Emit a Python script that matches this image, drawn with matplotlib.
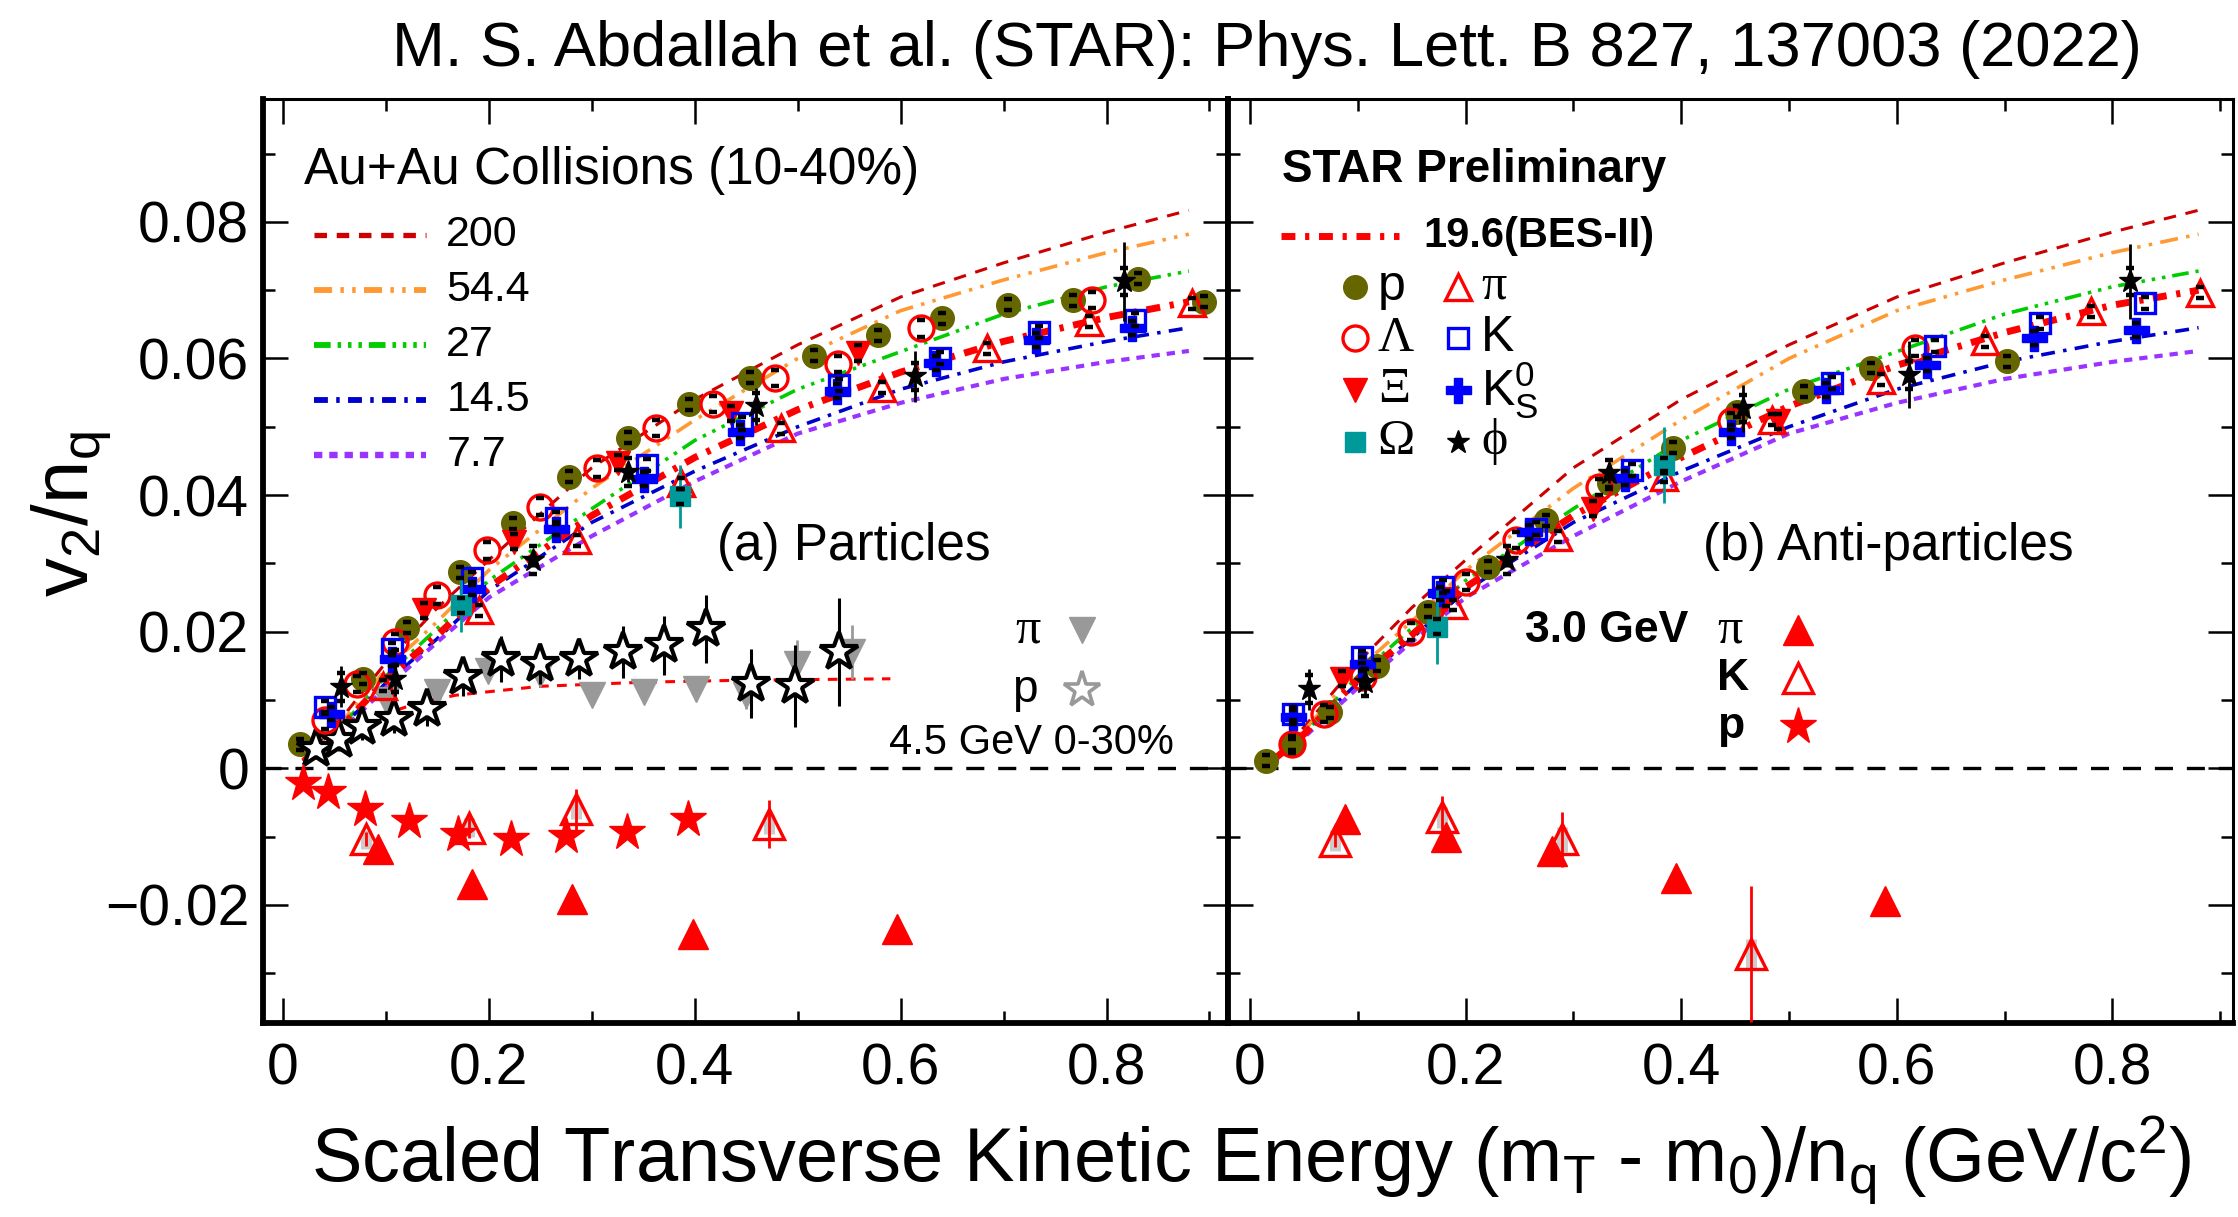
import matplotlib
matplotlib.use('Agg')
import matplotlib.pyplot as plt
from matplotlib.ticker import MultipleLocator

plt.rcParams['font.family'] = ['Liberation Sans', 'DejaVu Sans']
plt.rcParams['mathtext.default'] = 'regular'
plt.rcParams['lines.scale_dashes'] = False

# ---- NCQ fit curves (Au+Au 10-40%) ----
curve_x = [0.02, 0.05, 0.1, 0.15, 0.2, 0.3, 0.4, 0.5, 0.6, 0.7, 0.8, 0.88]
fit_200 = [0.001, 0.006, 0.0155, 0.0235, 0.0305, 0.044, 0.054, 0.062, 0.069, 0.074, 0.0785, 0.0817]
fit_54 = [0.001, 0.0055, 0.0145, 0.0215, 0.029, 0.041, 0.051, 0.060, 0.067, 0.0715, 0.0755, 0.0782]
fit_27 = [0.001, 0.005, 0.0135, 0.0205, 0.0275, 0.038, 0.048, 0.0555, 0.061, 0.0665, 0.0705, 0.0728]
fit_14 = [0.001, 0.005, 0.0125, 0.019, 0.026, 0.036, 0.0435, 0.050, 0.0555, 0.0595, 0.0625, 0.0645]
fit_7 = [0.0005, 0.0045, 0.0118, 0.0185, 0.025, 0.034, 0.042, 0.049, 0.0535, 0.057, 0.0595, 0.0611]
fit_19_par = [0.001, 0.005, 0.013, 0.0195, 0.0265, 0.037, 0.0455, 0.0525, 0.058, 0.0625, 0.066, 0.0683]
fit_19_anti = [0.001, 0.005, 0.013, 0.0195, 0.0265, 0.037, 0.0455, 0.053, 0.059, 0.0638, 0.0678, 0.070]
fit45_x = [0.094, 0.13, 0.168, 0.25, 0.35, 0.45, 0.59]
fit45_y = [0.0077, 0.0095, 0.0107, 0.012, 0.0126, 0.0129, 0.0131]

# ---- 19.6 GeV particles (left) ----
p_x = [0.016, 0.078, 0.120, 0.172, 0.223, 0.278, 0.335, 0.394, 0.454, 0.516, 0.578, 0.640, 0.704, 0.767, 0.831, 0.895]
p_y = [0.0035, 0.0131, 0.0206, 0.0287, 0.0359, 0.0427, 0.0484, 0.0533, 0.0572, 0.0604, 0.0634, 0.0659, 0.0679, 0.0685, 0.0717, 0.0683]
lam_x = [0.041, 0.072, 0.109, 0.150, 0.198, 0.250, 0.305, 0.362, 0.418, 0.478, 0.539, 0.620, 0.786]
lam_y = [0.0070, 0.0123, 0.0185, 0.0253, 0.0319, 0.0383, 0.0439, 0.0498, 0.0533, 0.0571, 0.0592, 0.0644, 0.0686]
xi_x = [0.137, 0.224, 0.325, 0.435, 0.559]
xi_y = [0.0231, 0.0332, 0.0447, 0.0520, 0.0608]
pi_x = [0.097, 0.190, 0.286, 0.387, 0.484, 0.582, 0.684, 0.783, 0.883]
pi_y = [0.0121, 0.0231, 0.0334, 0.0417, 0.0498, 0.0557, 0.0615, 0.0654, 0.0681]
k_x = [0.041, 0.106, 0.184, 0.265, 0.354, 0.446, 0.540, 0.638, 0.734, 0.828]
k_y = [0.0089, 0.0175, 0.0278, 0.0366, 0.0444, 0.0505, 0.0561, 0.0601, 0.0639, 0.0657]
k0_x = [0.047, 0.106, 0.184, 0.265, 0.351, 0.444, 0.538, 0.634, 0.731, 0.825]
k0_y = [0.0080, 0.0160, 0.0263, 0.0351, 0.0424, 0.0493, 0.0552, 0.0593, 0.0627, 0.0645]
om_x = [0.173, 0.386]
om_y = [0.0239, 0.0398]
om_err = [0.004, 0.0046]
phi_x = [0.056, 0.109, 0.243, 0.335, 0.459, 0.614, 0.817]
phi_y = [0.0119, 0.0131, 0.0305, 0.0434, 0.0530, 0.0574, 0.0713]
phi_err = [0.003, 0.0025, 0.001, 0.0015, 0.0027, 0.0037, 0.0058]

# ---- 19.6 GeV anti-particles (right) ----
ap_x = [0.015, 0.039, 0.074, 0.118, 0.165, 0.221, 0.275, 0.333, 0.392, 0.452, 0.514, 0.576, 0.702]
ap_y = [0.0011, 0.0035, 0.0082, 0.0150, 0.0229, 0.0295, 0.0363, 0.0417, 0.0469, 0.0522, 0.0552, 0.0586, 0.0596]
alam_x = [0.039, 0.069, 0.105, 0.149, 0.200, 0.247, 0.324, 0.446, 0.617]
alam_y = [0.0035, 0.0080, 0.0134, 0.0200, 0.0273, 0.0334, 0.0412, 0.0508, 0.0615]
axi_x = [0.085, 0.182, 0.318, 0.490]
axi_y = [0.0131, 0.0248, 0.0380, 0.0508]
api_x = [0.188, 0.286, 0.384, 0.484, 0.585, 0.682, 0.780, 0.881]
api_y = [0.0239, 0.0339, 0.0427, 0.0510, 0.0569, 0.0625, 0.0669, 0.0696]
ak_x = [0.040, 0.104, 0.179, 0.265, 0.354, 0.540, 0.635, 0.733, 0.830]
ak_y = [0.0080, 0.0163, 0.0266, 0.0351, 0.0437, 0.0564, 0.0618, 0.0652, 0.0681]
ak0_x = [0.040, 0.104, 0.176, 0.259, 0.348, 0.446, 0.534, 0.628, 0.727, 0.822]
ak0_y = [0.0075, 0.0153, 0.0256, 0.0346, 0.0425, 0.0493, 0.0554, 0.0591, 0.0630, 0.0642]
aom_x = [0.173, 0.384]
aom_y = [0.0207, 0.0444]
aom_err = [0.0054, 0.0055]
aphi_x = [0.055, 0.107, 0.238, 0.333, 0.457, 0.611, 0.816]
aphi_y = [0.0116, 0.0126, 0.0305, 0.0432, 0.0527, 0.0576, 0.0713]
aphi_err = [0.003, 0.002, 0.001, 0.0015, 0.0034, 0.0049, 0.0055]

# systematic half-heights (black caps) per species: p, Lambda, Xi, pi, K, K0S, Omega, phi
species_sys = [0.0008, 0.0012, 0.0011, 0.0008, 0.0009, 0.0010, 0.0011, 0.0020]

# ---- 4.5 GeV 0-30% ----
pi45_x = [0.100, 0.150, 0.199, 0.250, 0.300, 0.351, 0.401, 0.450, 0.499, 0.553]
pi45_y = [0.0100, 0.0112, 0.0143, 0.0138, 0.0107, 0.0112, 0.0116, 0.0107, 0.0153, 0.0170]
pi45_err = [0.0012, 0.0012, 0.0015, 0.0015, 0.0015, 0.0015, 0.0018, 0.002, 0.0035, 0.004]
p45_x = [0.032, 0.054, 0.077, 0.108, 0.140, 0.175, 0.212, 0.250, 0.288, 0.330, 0.370, 0.411, 0.455, 0.497, 0.540]
p45_y = [0.0028, 0.0041, 0.0060, 0.0072, 0.0087, 0.0134, 0.0160, 0.0153, 0.0160, 0.0170, 0.0180, 0.0204, 0.0124, 0.0121, 0.0170]
p45_err = [0.0015, 0.0015, 0.0018, 0.002, 0.0025, 0.0028, 0.0033, 0.003, 0.003, 0.0038, 0.0043, 0.005, 0.005, 0.006, 0.0079]

# ---- 3.0 GeV (left: particles, right: anti-particles) ----
p30_x = [0.019, 0.044, 0.080, 0.122, 0.170, 0.221, 0.275, 0.334, 0.393]
p30_y = [-0.0021, -0.0035, -0.0060, -0.0077, -0.0096, -0.0104, -0.0099, -0.0094, -0.0074]
pi30_x = [0.092, 0.184, 0.281, 0.398, 0.596]
pi30_y = [-0.0118, -0.0170, -0.0192, -0.0243, -0.0236]
k30_x = [0.081, 0.181, 0.285, 0.472]
k30_y = [-0.0104, -0.0087, -0.0060, -0.0082]
k30_err = [0.001, 0.0015, 0.003, 0.0035]
k30_sys = [0.0014, 0.0014, 0.0014, 0.0014]
api30_x = [0.088, 0.182, 0.280, 0.395, 0.589]
api30_y = [-0.0074, -0.0101, -0.0121, -0.0160, -0.0194]
ak30_x = [0.079, 0.178, 0.289, 0.465]
ak30_y = [-0.0106, -0.0072, -0.0104, -0.0272]
ak30_err = [0.001, 0.0032, 0.004, 0.0100]
ak30_sys = [0.0015, 0.0015, 0.0018, 0.0022]

xtick_vals = [0, 0.2, 0.4, 0.6, 0.8]
xtick_text = ['0', '0.2', '0.4', '0.6', '0.8']
ytick_vals = [-0.02, 0, 0.02, 0.04, 0.06, 0.08]
ytick_text = ['\u22120.02', '0', '0.02', '0.04', '0.06', '0.08']

OLIVE = '#666600'
TEAL = '#009999'
RED = '#ff0000'
BLUE = '#0000ff'

fits = [
    ('200', fit_200, '#cc0000', 2.2, (0, (9, 7))),
    ('54.4', fit_54, '#ff9933', 2.6, (0, (13, 6, 2.5, 6, 2.5, 6))),
    ('27', fit_27, '#00cc00', 2.6, (0, (12, 5, 2.5, 5, 2.5, 5, 2.5, 5))),
    ('14.5', fit_14, '#0000cc', 2.6, (0, (10, 6, 2.5, 6))),
    ('7.7', fit_7, '#9933ff', 3.0, (0, (6, 5))),
]
DASH19 = (0, (10, 7, 3, 7))
SERIF = ['Liberation Serif', 'DejaVu Serif']


def style(ax, xlim, show_y):
    ax.set_xlim(*xlim)
    ax.set_ylim(-0.0373, 0.098)
    ax.set_xticks(xtick_vals)
    ax.set_xticklabels(xtick_text)
    ax.xaxis.set_minor_locator(MultipleLocator(0.1))
    ax.set_yticks(ytick_vals)
    if show_y:
        ax.set_yticklabels(ytick_text)
    else:
        ax.set_yticklabels([])
    ax.yaxis.set_minor_locator(MultipleLocator(0.01))
    ax.tick_params(which='both', direction='in', top=True, right=True,
                   width=1.8, labelsize=41)
    ax.tick_params(which='major', length=18)
    ax.tick_params(which='minor', length=8.5)
    ax.tick_params(axis='x', pad=14)
    ax.tick_params(axis='y', pad=10)
    ax.axhline(0, color='k', lw=2.4, dashes=(13, 10), zorder=1)


def draw_fits(ax, fit19):
    for name, vals, col, lw, ls in fits:
        ax.plot(curve_x, vals, color=col, lw=lw, linestyle=ls, zorder=2)
    ax.plot(curve_x, fit19, color=RED, lw=5, linestyle=DASH19, zorder=2)


def sys_caps(ax, xs, ys, s):
    ax.plot(xs, [y + s for y in ys], '_', color='k', ms=6, mew=3.2, zorder=8)
    ax.plot(xs, [y - s for y in ys], '_', color='k', ms=6, mew=3.2, zorder=8)


def draw_species(ax, d):
    ax.plot(d['p'][0], d['p'][1], 'o', ms=17, color=OLIVE, mec=OLIVE, zorder=4)
    ax.plot(d['lam'][0], d['lam'][1], 'o', ms=18, mfc='none', mec=RED, mew=2.4, zorder=5)
    ax.plot(d['xi'][0], d['xi'][1], 'v', ms=17, color=RED, zorder=5)
    ax.plot(d['pi'][0], d['pi'][1], '^', ms=19, mfc='none', mec=RED, mew=2.4, zorder=5)
    ax.plot(d['k'][0], d['k'][1], 's', ms=15, mfc='none', mec=BLUE, mew=2.4, zorder=5)
    ax.plot(d['k0'][0], d['k0'][1], 'P', ms=18, color=BLUE, mec=BLUE, zorder=5)
    ax.errorbar(d['om'][0], d['om'][1], yerr=d['om'][2], fmt='s', ms=15,
                color=TEAL, ecolor=TEAL, elinewidth=2, capsize=0, zorder=5)
    ax.errorbar(d['phi'][0], d['phi'][1], yerr=d['phi'][2], fmt='*', ms=17,
                color='k', ecolor='k', elinewidth=2, capsize=0, zorder=6)
    for key, s in zip(['p', 'lam', 'xi', 'pi', 'k', 'k0', 'om', 'phi'], species_sys):
        sys_caps(ax, d[key][0], d[key][1], s)


fig = plt.figure(figsize=(22.38, 12.17), dpi=100)
ax1 = fig.add_axes([0.1175, 0.1594, 0.4312, 0.7593])
ax2 = fig.add_axes([0.5487, 0.1594, 0.4491, 0.7593])

style(ax1, (-0.0195, 0.918), True)
style(ax2, (-0.0205, 0.912), False)

for ax in (ax1, ax2):
    ax.spines['left'].set_linewidth(4.2)
    ax.spines['bottom'].set_linewidth(4.2)
    ax.spines['top'].set_linewidth(2.2)
ax1.spines['right'].set_linewidth(4.2)
ax2.spines['right'].set_linewidth(2.2)

# ---- left panel ----
draw_fits(ax1, fit_19_par)
ax1.plot(fit45_x, fit45_y, color=RED, lw=2.2, linestyle=(0, (7, 6)), zorder=2)
ax1.errorbar(pi45_x, pi45_y, yerr=pi45_err, fmt='v', ms=19, color='#999999',
             ecolor='#999999', elinewidth=2, capsize=0, zorder=3)
ax1.errorbar(p45_x, p45_y, yerr=p45_err, fmt='*', ms=29, mfc='white', mec='k',
             mew=3.0, ecolor='k', elinewidth=2.2, capsize=0, zorder=4)
draw_species(ax1, {
    'p': (p_x, p_y), 'lam': (lam_x, lam_y), 'xi': (xi_x, xi_y),
    'pi': (pi_x, pi_y), 'k': (k_x, k_y), 'k0': (k0_x, k0_y),
    'om': (om_x, om_y, om_err), 'phi': (phi_x, phi_y, phi_err)})
ax1.plot(p30_x, p30_y, '*', ms=28, color=RED, zorder=5)
ax1.plot(pi30_x, pi30_y, '^', ms=21, color=RED, zorder=5)
ax1.errorbar(k30_x, k30_y, yerr=k30_sys, fmt='none', ecolor='#cccccc',
             elinewidth=8, capsize=0, zorder=4)
ax1.errorbar(k30_x, k30_y, yerr=k30_err, fmt='^', ms=21, mfc='none', mec=RED,
             mew=2.4, ecolor=RED, elinewidth=2, capsize=0, zorder=5)

# ---- right panel ----
draw_fits(ax2, fit_19_anti)
draw_species(ax2, {
    'p': (ap_x, ap_y), 'lam': (alam_x, alam_y), 'xi': (axi_x, axi_y),
    'pi': (api_x, api_y), 'k': (ak_x, ak_y), 'k0': (ak0_x, ak0_y),
    'om': (aom_x, aom_y, aom_err), 'phi': (aphi_x, aphi_y, aphi_err)})
ax2.plot(api30_x, api30_y, '^', ms=21, color=RED, zorder=5)
ax2.errorbar(ak30_x, ak30_y, yerr=ak30_sys, fmt='none', ecolor='#cccccc',
             elinewidth=8, capsize=0, zorder=4)
ax2.errorbar(ak30_x, ak30_y, yerr=ak30_err, fmt='^', ms=21, mfc='none', mec=RED,
             mew=2.4, ecolor=RED, elinewidth=2, capsize=0, zorder=5)

# ---- left legend (energies) ----
t1 = ax1.transAxes
ax1.text(0.0425, 0.923, 'Au+Au Collisions (10-40%)', transform=t1,
         fontsize=37, va='center', ha='left')
rows = [0.853, 0.793, 0.734, 0.674, 0.615]
for (name, vals, col, lw, ls), yy in zip(fits, rows):
    ax1.plot([0.0524, 0.169], [yy, yy], transform=t1, color=col, lw=lw + 1.6,
             linestyle=ls, clip_on=False)
    ax1.text(0.190, yy, name, transform=t1, fontsize=31, va='center', ha='left')
ax1.text(0.470, 0.516, '(a) Particles', transform=t1, fontsize=37,
         va='center', ha='left')
ax1.text(0.793, 0.425, '\u03c0', transform=t1, fontsize=36, va='center',
         ha='center', family=SERIF)
ax1.plot([0.849], [0.425], 'v', ms=19, color='#999999', transform=t1)
ax1.text(0.789, 0.360, 'p', transform=t1, fontsize=33, va='center', ha='center')
ax1.plot([0.849], [0.360], '*', ms=27, mfc='white', mec='#999999', mew=2.6,
         transform=t1)
ax1.text(0.796, 0.303, '4.5 GeV 0-30%', transform=t1, fontsize=30,
         va='center', ha='center')

# ---- right legend (species) ----
t2 = ax2.transAxes
ax2.text(0.0535, 0.923, 'STAR Preliminary', transform=t2, fontsize=33,
         fontweight='bold', va='center', ha='left')
ax2.plot([0.053, 0.170], [0.852, 0.852], transform=t2, color=RED, lw=5,
         linestyle=DASH19, clip_on=False)
ax2.text(0.194, 0.852, '19.6(BES-II)', transform=t2, fontsize=30,
         fontweight='bold', va='center', ha='left')

c1m, c1t, c2m, c2t = 0.126, 0.149, 0.229, 0.252
leg_rows = [0.797, 0.741, 0.685, 0.629]
ax2.plot([c1m], [leg_rows[0]], 'o', ms=17, color=OLIVE, transform=t2)
ax2.text(c1t, leg_rows[0], 'p', transform=t2, fontsize=36, va='center')
ax2.plot([c2m], [leg_rows[0]], '^', ms=19, mfc='none', mec=RED, mew=2.4, transform=t2)
ax2.text(c2t, leg_rows[0], '\u03c0', transform=t2, fontsize=36, va='center', family=SERIF)
ax2.plot([c1m], [leg_rows[1]], 'o', ms=18, mfc='none', mec=RED, mew=2.4, transform=t2)
ax2.text(c1t, leg_rows[1], '\u039b', transform=t2, fontsize=36, va='center', family=SERIF)
ax2.plot([c2m], [leg_rows[1]], 's', ms=15, mfc='none', mec=BLUE, mew=2.4, transform=t2)
ax2.text(c2t, leg_rows[1], 'K', transform=t2, fontsize=36, va='center')
ax2.plot([c1m], [leg_rows[2]], 'v', ms=17, color=RED, transform=t2)
ax2.text(c1t, leg_rows[2], '\u039e', transform=t2, fontsize=36, va='center', family=SERIF)
ax2.plot([c2m], [leg_rows[2]], 'P', ms=18, color=BLUE, transform=t2)
ax2.text(c2t, leg_rows[2], 'K$^0_S$', transform=t2, fontsize=36, va='center')
ax2.plot([c1m], [leg_rows[3]], 's', ms=15, color=TEAL, transform=t2)
ax2.text(c1t, leg_rows[3], '\u03a9', transform=t2, fontsize=36, va='center', family=SERIF)
ax2.plot([c2m], [leg_rows[3]], '*', ms=17, color='k', transform=t2)
ax2.text(c2t, leg_rows[3], '\u03d5', transform=t2, fontsize=36, va='center', family=SERIF)

ax2.text(0.4725, 0.516, '(b) Anti-particles', transform=t2, fontsize=37,
         va='center', ha='left')
ax2.text(0.458, 0.425, '3.0 GeV', transform=t2, fontsize=32, fontweight='bold',
         va='center', ha='right')
ax2.text(0.487, 0.425, '\u03c0', transform=t2, fontsize=36, va='center', family=SERIF)
ax2.text(0.487, 0.373, 'K', transform=t2, fontsize=32, fontweight='bold', va='center')
ax2.text(0.487, 0.321, 'p', transform=t2, fontsize=32, fontweight='bold', va='center')
ax2.plot([0.567], [0.425], '^', ms=21, color=RED, transform=t2)
ax2.plot([0.567], [0.373], '^', ms=21, mfc='none', mec=RED, mew=2.4, transform=t2)
ax2.plot([0.567], [0.321], '*', ms=28, color=RED, transform=t2)

# ---- titles ----
fig.text(0.566, 0.959, 'M. S. Abdallah et al. (STAR): Phys. Lett. B 827, 137003 (2022)',
         fontsize=45.5, ha='center', va='center')
fig.text(0.559, 0.029, 'Scaled Transverse Kinetic Energy (m$_T$ - m$_0$)/n$_q$ (GeV/c$^2$)',
         fontsize=54.5, ha='center', va='baseline')
fig.text(0.032, 0.578, 'v$_2$/n$_q$', fontsize=56, rotation=90,
         ha='center', va='center')

fig.savefig('out.png', dpi=100)
